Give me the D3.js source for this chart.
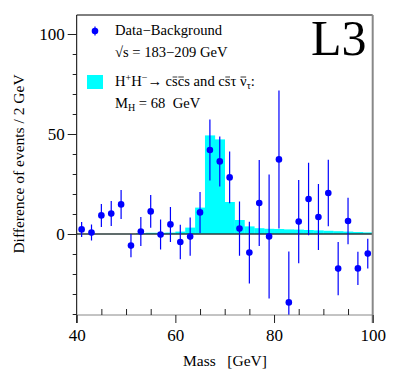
<!DOCTYPE html>
<html><head><meta charset="utf-8">
<script src="https://cdn.jsdelivr.net/npm/d3@7"></script>
<style>
html,body{margin:0;padding:0;background:#fff;}
svg{display:block;font-family:"Liberation Serif","DejaVu Serif",serif;}
</style></head>
<body>
<svg id="c" width="398" height="378"></svg>
<script>
// ---- data ----
const masses = [41,43,45,47,49,51,53,55,57,59,61,63,65,67,69,71,73,75,77,79,81,83,85,87,89,91,93,95,97,99];
const diffValues = [2.3,0.7,9.3,10.2,14.8,-5.8,1.2,11.3,-0.3,4.8,-4.0,-1.3,10.8,42.0,36.3,28.3,2.7,-9.3,15.5,-1.2,37.3,-34.2,6.2,17.5,8.5,20.5,-17.3,6.5,-17.2,-9.8];
const diffErrors = [3.75,4.0,5.75,6.25,7.25,5.85,7.25,8.15,7.5,8.75,8.6,9.55,10.25,15.25,12.5,12.95,13.6,15.45,21.5,31.0,34.5,25.4,20.85,18.1,16.5,16.65,13.35,11.6,8.35,7.4];
const signalBinLow = [52,54,56,58,60,62,64,66,68,70,72,74,76,78,80,82,84,86,88,90,92,94,96,98];
const signalValues = [0.4,0.6,0.6,0.7,1.2,3.2,13.2,49.3,47.3,16.0,7.0,3.8,2.9,2.6,2.5,2.3,2.2,2.0,1.8,1.6,1.4,1.2,1.0,0.8];
const binWidth = 2;
const xMajorTicks = [40,60,80,100];
const xMinorTicks = [45,50,55,65,70,75,85,90,95];
const yMajorTicks = [0,50,100];
const yMinorTicks = [-40,-30,-20,-10,10,20,30,40,60,70,80,90];

const svg = d3.select("#c");
const L = 76.7, R = 372.7, T = 15, B = 315;
const x = d3.scaleLinear().domain([40,100]).range([L,R]);
const y = d3.scaleLinear().domain([-40.5,109.5]).range([B,T]);

svg.append("defs").append("clipPath").attr("id","clip")
  .append("rect").attr("x",L).attr("y",T).attr("width",R-L).attr("height",B-T);

const plot = svg.append("g").attr("clip-path","url(#clip)");

// signal histogram
plot.selectAll("rect.sig").data(signalBinLow).enter().append("rect")
  .attr("class","sig")
  .attr("x", d => x(d))
  .attr("width", d => x(d+binWidth)-x(d)+0.3)
  .attr("y", (d,i) => y(signalValues[i]))
  .attr("height", (d,i) => y(0)-y(signalValues[i]))
  .attr("fill","#00ffff");

// zero line
plot.append("line").attr("x1",L).attr("x2",R).attr("y1",y(0)).attr("y2",y(0))
  .attr("stroke","#2b3b3b").attr("stroke-width",1.3);

// error bars
plot.selectAll("line.err").data(masses).enter().append("line")
  .attr("class","err")
  .attr("x1", d => x(d)).attr("x2", d => x(d))
  .attr("y1", (d,i) => y(diffValues[i]+diffErrors[i]))
  .attr("y2", (d,i) => y(diffValues[i]-diffErrors[i]))
  .attr("stroke","#0000ff").attr("stroke-width",1.2);

// markers
plot.selectAll("circle.pt").data(masses).enter().append("circle")
  .attr("class","pt")
  .attr("cx", d => x(d)).attr("cy", (d,i) => y(diffValues[i]))
  .attr("r",3.3).attr("fill","#0000ff");

// frame
svg.append("line").attr("x1",L).attr("x2",R).attr("y1",T).attr("y2",T).attr("stroke","#000").attr("stroke-width",1);
svg.append("line").attr("x1",L).attr("x2",L).attr("y1",T).attr("y2",B+8).attr("stroke","#000").attr("stroke-width",1);
svg.append("line").attr("x1",L).attr("x2",R).attr("y1",B).attr("y2",B).attr("stroke","#888").attr("stroke-width",1);
svg.append("line").attr("x1",R).attr("x2",R).attr("y1",T).attr("y2",B+8).attr("stroke","#888").attr("stroke-width",2);

// x axis ticks
const xAxisMinor = d3.axisBottom(x).tickValues(xMinorTicks).tickSizeInner(-6).tickSizeOuter(0).tickFormat("");
const gxm = svg.append("g").attr("transform",`translate(0,${B})`).call(xAxisMinor);
gxm.select(".domain").remove();
gxm.selectAll("line").attr("stroke","#222");
const xAxisMajor = d3.axisBottom(x).tickValues(xMajorTicks).tickSizeInner(8).tickSizeOuter(0).tickPadding(6).tickFormat(d3.format("d"));
const gx = svg.append("g").attr("transform",`translate(0,${B})`).call(xAxisMajor);
gx.select(".domain").remove();
gx.selectAll("line").attr("stroke","#222");
gx.selectAll("text").attr("font-family","Liberation Serif").attr("font-size",17).attr("fill","#000");

// y axis ticks
const yAxisMinor = d3.axisLeft(y).tickValues(yMinorTicks).tickSizeInner(4).tickSizeOuter(0).tickFormat("");
const gym = svg.append("g").attr("transform",`translate(${L},0)`).call(yAxisMinor);
gym.select(".domain").remove();
gym.selectAll("line").attr("stroke","#222");
const yAxisMajor = d3.axisLeft(y).tickValues(yMajorTicks).tickSizeInner(9).tickSizeOuter(0).tickPadding(3).tickFormat(d3.format("d"));
const gy = svg.append("g").attr("transform",`translate(${L},0)`).call(yAxisMajor);
gy.select(".domain").remove();
gy.selectAll("line").attr("stroke","#222");
gy.selectAll("text").attr("font-family","Liberation Serif").attr("font-size",17).attr("fill","#000");

// axis titles
svg.append("text").attr("x",225).attr("y",366).attr("text-anchor","middle")
  .attr("font-size",15.5).text("Mass\u00a0\u00a0\u00a0[GeV]");
svg.append("text").attr("transform","translate(24,164) rotate(-90)").attr("text-anchor","middle")
  .attr("font-size",15.5).text("Difference of events / 2 GeV");

// L3
svg.append("text").attr("x",311).attr("y",55).attr("font-size",50).text("L3");

// legend
const LF = 14.6;
svg.append("line").attr("x1",95).attr("x2",95).attr("y1",26.5).attr("y2",35.5).attr("stroke","#0000ff").attr("stroke-width",1.2);
svg.append("circle").attr("cx",95).attr("cy",31).attr("r",3.3).attr("fill","#0000ff");
svg.append("text").attr("x",115).attr("y",35).attr("font-size",LF).text("Data\u2212Background");
svg.append("text").attr("x",115).attr("y",57).attr("font-size",LF).text("\u221as = 183\u2212209 GeV");
svg.append("rect").attr("x",87).attr("y",75).attr("width",16).attr("height",14).attr("fill","#00ffff");

// signal legend text, with hand-drawn overlines
const parts = [
  {t:"H"}, {t:"+", sup:true}, {t:"H"}, {t:"\u2212", sup:true}, {t:"\u2192 c"},
  {t:"s", bar:true}, {t:"c", bar:true}, {t:"s and c"}, {t:"s", bar:true},
  {t:"\u03c4 "}, {t:"\u03bd", bar:true}, {t:"\u03c4", sub:true}, {t:":"}
];
const t3 = svg.append("text").attr("x",115).attr("y",86).attr("font-size",LF);
let shift = 0;
parts.forEach(p => {
  const ts = t3.append("tspan").text(p.t);
  let want = p.sup ? -5 : (p.sub ? 3 : 0);
  if (p.sup || p.sub) ts.attr("font-size",10);
  if (want !== shift) { ts.attr("dy", want - shift); shift = want; }
});
const t3node = t3.node();
let ci = 0;
parts.forEach(p => {
  if (p.bar) {
    const e = t3node.getExtentOfChar(ci);
    svg.append("line").attr("x1",e.x+0.5).attr("x2",e.x+e.width-0.5)
      .attr("y1",77).attr("y2",77).attr("stroke","#000").attr("stroke-width",0.8);
  }
  ci += p.t.length;
});

const t4 = svg.append("text").attr("x",115).attr("y",108).attr("font-size",LF);
t4.append("tspan").text("M");
t4.append("tspan").attr("font-size",10).attr("dy",3).text("H");
t4.append("tspan").attr("dy",-3).text(" = 68\u00a0\u00a0GeV");
</script>
</body></html>
